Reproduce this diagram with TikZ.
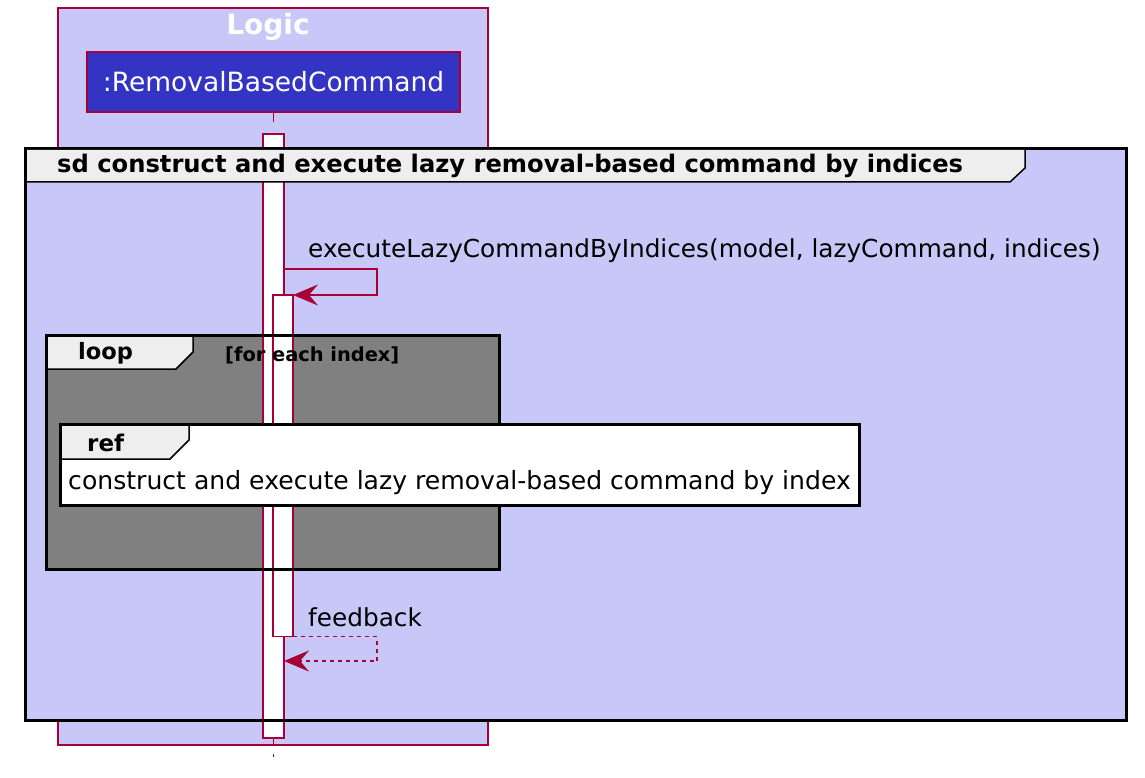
\documentclass[tikz,border=0pt]{standalone}
\usepackage{fontspec}
\setmainfont{DejaVu Sans}
\usetikzlibrary{shapes, arrows.meta, positioning}
\definecolor{umlred}{HTML}{A80036}
\definecolor{umlback}{HTML}{C8C8F8}
\definecolor{umlblue}{HTML}{3333C4}
\definecolor{tabgray}{HTML}{EEEEEE}
\definecolor{loopgray}{HTML}{808080}
\tikzstyle{group} = [rectangle, draw=umlred, fill=umlback, line width=1.5pt, outer sep=0pt]
\tikzstyle{grouptitle} = [text=white, inner sep=0pt, font=\fontsize{28}{33}\selectfont\bfseries]
\tikzstyle{actor} = [rectangle, draw=umlred, fill=umlblue, line width=2.5pt, text=white, minimum width=373, minimum height=60, outer sep=0pt, font=\fontsize{26.5}{32}\selectfont]
\tikzstyle{lifeline} = [draw=umlred, line width=1.5pt]
\tikzstyle{bar} = [rectangle, draw=umlred, fill=white, line width=1.3pt, outer sep=0pt]
\tikzstyle{framefill} = [rectangle, inner sep=0pt, outer sep=0pt]
\tikzstyle{frameline} = [draw=black, line width=3pt]
\tikzstyle{tabline} = [draw=black, line width=1.5pt]
\tikzstyle{framelabel} = [anchor=west, inner sep=0pt, font=\fontsize{24.2}{29}\selectfont\bfseries]
\tikzstyle{guard} = [anchor=west, inner sep=0pt, font=\fontsize{19.4}{23}\selectfont\bfseries]
\tikzstyle{msglabel} = [anchor=west, inner sep=0pt, font=\fontsize{24.75}{30}\selectfont]
\tikzstyle{line} = [draw=umlred, line width=1.5pt, -{Stealth[length=25pt, width=21pt, inset=9pt]}]
\tikzstyle{reply} = [line, dash pattern=on 4pt off 4pt]

\begin{document}
\begin{tikzpicture}[x=1pt, y=-1pt]
    \useasboundingbox (0,0) rectangle (1145,778);

    % participant box
    \node[group, minimum width=430, minimum height=737] (logicbox) at (273,376.5) {};
    \node[grouptitle] (logic) at (268,27) {Logic};
    \node[actor] (cmd) at (273.5,82) {:RemovalBasedCommand};

    % frame backgrounds
    \node[framefill, fill=umlback, minimum width=1101, minimum height=572] (sd) at (576,434.5) {};
    \node[framefill, fill=loopgray, minimum width=453, minimum height=234] (loop) at (273,452.5) {};

    % activations
    \node[bar, minimum width=21, minimum height=604] (act1) at (273.5,436) {};
    \node[bar, minimum width=20, minimum height=341.5] (act2) at (283,465.75) {};
    \coordinate (lifeend) at (273.5,757);
    \draw[lifeline, dash pattern=on 10pt off 30pt] (cmd) -- (act1.north);
    \draw[lifeline, dash pattern=on 7pt off 9pt] (act1.south) -- (lifeend);

    % frame borders and tabs
    \draw[frameline] (loop.north west) rectangle (loop.south east);
    \draw[frameline] (sd.north west) rectangle (sd.south east);
    \fill[tabgray] (27,150) -- (1025,150) -- (1025,168) -- (1010,182) -- (27,182) -- cycle;
    \draw[tabline] (1025,150) -- (1025,168) -- (1010,182) -- (27,182);
    \node[framelabel] (sdtitle) at (57,166) {sd construct and execute lazy removal-based command by indices};

    \fill[tabgray] (48,337) -- (193,337) -- (193,352) -- (176,369) -- (48,369) -- cycle;
    \draw[tabline] (193,337) -- (193,352) -- (176,369) -- (48,369);
    \node[framelabel, font=\fontsize{22.5}{27}\selectfont\bfseries] (looplabel) at (78,353) {loop};
    \node[guard] (loopguard) at (225,355) {[for each index]};

    % ref
    \node[framefill, fill=white, draw=black, line width=3pt, minimum width=799, minimum height=81] (ref) at (460,465) {};
    \fill[tabgray] (62,426) -- (189,426) -- (189,440) -- (170,459) -- (62,459) -- cycle;
    \draw[tabline] (189,426) -- (189,440) -- (170,459) -- (62,459);
    \node[framelabel, font=\fontsize{23}{28}\selectfont\bfseries] (reflabel) at (87,443) {ref};
    \node[msglabel, font=\fontsize{25.1}{30}\selectfont] (reftext) at (68,483) {construct and execute lazy removal-based command by index};

    % messages
    \coordinate (m1a) at (377,269);
    \coordinate (m1b) at (377,295);
    \path[line] (act1.east |- m1a) -- (m1a) -- (m1b) -- (act2.north east);
    \node[msglabel] (m1label) at (308,251) {executeLazyCommandByIndices(model, lazyCommand, indices)};

    \coordinate (m2a) at (377,636.5);
    \coordinate (m2b) at (377,661);
    \path[reply] (act2.south east) -- (m2a) -- (m2b) -- (act1.east |- m2b);
    \node[msglabel] (m2label) at (308,617) {feedback};
\end{tikzpicture}
\end{document}
